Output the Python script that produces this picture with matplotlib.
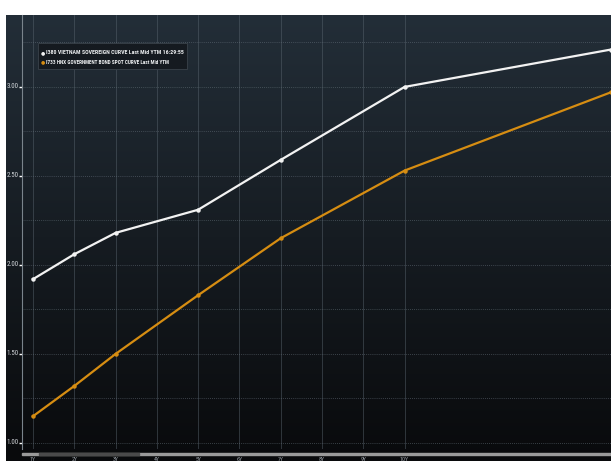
import numpy as np
import matplotlib
matplotlib.use("Agg")
import matplotlib.pyplot as plt
from matplotlib.patches import Rectangle
from matplotlib import font_manager

# curve data (tenor in years, yield %)
tenors = [1, 2, 3, 5, 7, 10, 15]
vn_sov = [1.92, 2.06, 2.18, 2.31, 2.59, 3.00, 3.21]
hnx_spot = [1.15, 1.32, 1.50, 1.83, 2.15, 2.53, 2.97]
x_ticks = [1, 2, 3, 4, 5, 6, 7, 8, 9, 10]
x_labels = ["1Y", "2Y", "3Y", "4Y", "5Y", "6Y", "7Y", "8Y", "9Y", "10Y"]
y_ticks = [1.00, 1.50, 2.00, 2.50, 3.00]
legend_labels = ["I380 VIETNAM SOVEREIGN CURVE Last Mid YTM 16:29:55",
                 "I733 HNX GOVERNMENT BOND SPOT CURVE Last Mid YTM"]

W, H = 611, 461

# pick a narrow font if one is around, else fall back
names = {f.name for f in font_manager.fontManager.ttflist}
narrow = "DejaVu Sans"
for cand in ["Liberation Sans Narrow", "Roboto Condensed", "Open Sans Condensed", "Noto Sans Condensed"]:
    if cand in names:
        narrow = cand
        break
stretch = "condensed"

fig = plt.figure(figsize=(W / 100, H / 100), dpi=100)
fig.patch.set_facecolor("white")

# dark gradient background behind the chart
bg = fig.add_axes([6 / W, 0, 1 - 6 / W, (H - 15) / H])
grad = np.linspace(0, 1, 256).reshape(-1, 1)
top = np.array([0x23, 0x2e, 0x38]) / 255
bot = np.array([0x09, 0x0a, 0x0c]) / 255
img = top[None, None, :] * (1 - grad[:, :, None]) + bot[None, None, :] * grad[:, :, None]
bg.imshow(img, aspect="auto", extent=[0, 1, 0, 1], origin="upper")
bg.set_axis_off()

ax = fig.add_axes([22 / W, (H - 449) / H, 1 - 22 / W, (449 - 15) / H])
ax.patch.set_alpha(0)
ax.set_xlim(0.734, 15.0)
ax.set_ylim(0.966, 3.404)

# grid
for xv in x_ticks:
    ax.axvline(xv, color="#5a6670", lw=0.6, alpha=0.55, zorder=1)
for yv in np.arange(1.0, 3.5, 0.25):
    ax.axhline(yv, color="#6a7680", lw=0.6, ls=(0, (1, 1.5)), alpha=0.65, zorder=1)

ax.plot(tenors, vn_sov, color="#f2f2f2", lw=1.6, marker="o", ms=2.2, zorder=3)
ax.plot(tenors, hnx_spot, color="#d68d12", lw=1.6, marker="o", ms=2.2, zorder=3)

for s in ["top", "right", "bottom"]:
    ax.spines[s].set_visible(False)
ax.spines["left"].set_color("#7a848c")
ax.spines["left"].set_linewidth(0.8)

ax.set_yticks(y_ticks)
ax.set_yticklabels([])
ax.tick_params(axis="y", length=2, width=1, color="white")
ax.set_xticks([])

fig.canvas.draw()
renderer = fig.canvas.get_renderer()


def fitted_text(x, y, s, width_px, size, **kw):
    t = fig.text(x, y, s, fontsize=size, family=narrow, fontstretch=stretch, **kw)
    w = t.get_window_extent(renderer).width
    if w > width_px:
        t.set_fontsize(size * width_px / w)
    return t


for yv in y_ticks:
    yf = ax.transData.transform((1, yv))[1] / H
    fitted_text(19 / W, yf, f"{yv:.2f}", 12, 5.4, color="#d0d4d8", ha="right", va="center")

# x labels and scroll bar below the plot
for xv, lab in zip(x_ticks, x_labels):
    xf = ax.transData.transform((xv, 1))[0] / W
    fitted_text(xf, 2 / H, lab, 9 if len(lab) > 2 else 6, 4.5, color="#9aa0a6",
                ha="center", va="center")
fig.patches.append(Rectangle((22 / W, (H - 455) / H), 1 - 22 / W, 2.5 / H,
                             transform=fig.transFigure, color="#9a9a9a", zorder=5))
fig.patches.append(Rectangle((39 / W, (H - 455) / H), 100 / W, 2.5 / H,
                             transform=fig.transFigure, color="#4a4a4a", zorder=6))

# legend box
fig.patches.append(Rectangle((38 / W, (H - 69) / H), 149 / W, 26 / H,
                             transform=fig.transFigure, facecolor="#151a20",
                             edgecolor="#3a424a", lw=0.6, zorder=5))
leg_widths = [139, 125]
for i, (lab, c) in enumerate(zip(legend_labels, ["#f2f2f2", "#d68d12"])):
    yy = (H - 52.5 - i * 9.5) / H
    fig.text(43 / W, yy, "\u25cf", fontsize=3.5, color=c, ha="center", va="center", zorder=6)
    fitted_text(46 / W, yy, lab, leg_widths[i], 5.0, color="#eceef0", ha="left",
                va="center", weight="bold", zorder=6)

fig.savefig("out.png", dpi=100)
